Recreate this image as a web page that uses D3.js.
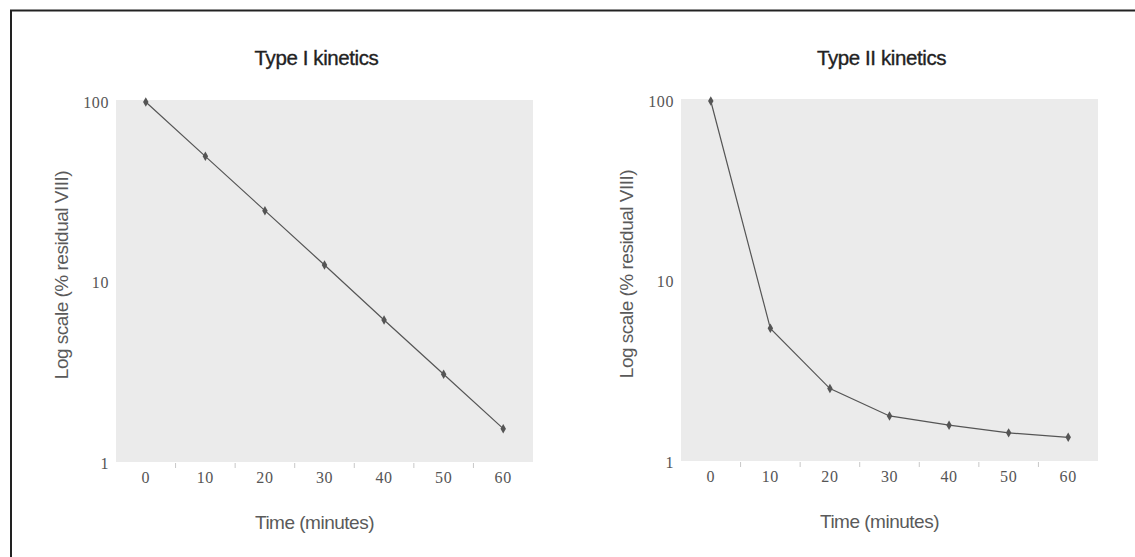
<!DOCTYPE html>
<html>
<head>
<meta charset="utf-8">
<script src="https://cdn.jsdelivr.net/npm/d3@7"></script>
<style>
  body { margin: 0; background: #fff; }
  .title { font-family: "Liberation Sans", Arial, sans-serif; font-size: 20.5px; fill: #222; stroke: #222; stroke-width: 0.35; letter-spacing: -0.4px; }
  .axisLabel { font-family: "Liberation Sans", Arial, sans-serif; font-size: 19px; fill: #5a5a5a; letter-spacing: -0.5px; }
  .tick text { font-family: "Liberation Serif", "Times New Roman", serif; font-size: 16px; fill: #555; letter-spacing: 0.6px; }
  .line { fill: none; stroke: #555; stroke-width: 1.2; }
  .data_points { fill: #555; }
</style>
</head>
<body>
<script>
var times = [0, 10, 20, 30, 40, 50, 60];
var typeOne = [100, 50, 25, 12.5, 6.2, 3.1, 1.55];
var typeTwo = [100, 5.5, 2.55, 1.8, 1.6, 1.45, 1.37];
var yTicks = [1, 10, 100];
var titles = ["Type I kinetics", "Type II kinetics"];

var loadPanel = function(svg, left, top, title, values){
    var w = 417, h = 362;
    var xScale = d3.scaleBand().domain(times).range([left, left + w]);
    var yScale = d3.scaleLog().domain([1, 100]).range([top + h + 1, top + 2]);
    var g = svg.append("g").style("color", "#555");

    g.append("rect")
        .attr("x", left).attr("y", top)
        .attr("width", w).attr("height", h)
        .attr("fill", "#ebebeb");

    // tick marks between the bands, below the plot
    g.append("g").selectAll("line").data(times.slice(1)).enter().append("line")
        .attr("x1", function(d){ return xScale(d); })
        .attr("x2", function(d){ return xScale(d); })
        .attr("y1", top + h + 1).attr("y2", top + h + 6)
        .attr("stroke", "#c8c8c8");

    var xAxis = d3.axisBottom(xScale).tickSize(0).tickPadding(10);
    g.append("g")
        .attr("transform", "translate(0," + (top + h) + ")")
        .call(xAxis)
        .call(function(a){ a.select(".domain").remove(); });

    var yAxis = d3.axisLeft(yScale).tickValues(yTicks).tickFormat(d3.format("d")).tickSize(0).tickPadding(7);
    g.append("g")
        .attr("transform", "translate(" + left + ",0)")
        .call(yAxis)
        .call(function(a){ a.select(".domain").remove(); });

    var line = d3.line()
        .x(function(d, i){ return xScale(times[i]) + xScale.bandwidth() / 2; })
        .y(function(d){ return yScale(d); });
    g.append("path").datum(values)
        .classed("line", true)
        .attr("d", line);

    g.append("g").selectAll("path").data(values).enter().append("path")
        .classed("data_points", true)
        .attr("d", d3.symbol().size(26).type(d3.symbolDiamond))
        .attr("transform", function(d, i){
            return "translate(" + (xScale(times[i]) + xScale.bandwidth() / 2) + "," + yScale(d) + ")";
        });

    g.append("text").classed("title", true)
        .attr("x", left + w / 2 - 8).attr("y", 65)
        .attr("text-anchor", "middle")
        .text(title);

    g.append("text").classed("axisLabel", true)
        .attr("x", left + w / 2 - 10).attr("y", top + h + 67)
        .attr("text-anchor", "middle")
        .text("Time (minutes)");

    g.append("text").classed("axisLabel", true)
        .attr("transform", "translate(" + (left - 48) + "," + (top + h / 2 - 6) + ") rotate(-90)")
        .attr("text-anchor", "middle")
        .text("Log scale (% residual VIII)");
}

var loadGraph = function(){
    var svg = d3.select("body").append("svg")
        .attr("width", 1135)
        .attr("height", 557);
    svg.append("path")
        .attr("d", "M11,557 L11,10.5 L1135,10.5")
        .attr("fill", "none")
        .attr("stroke", "#222")
        .attr("stroke-width", 2);
    loadPanel(svg, 116, 100, titles[0], typeOne);
    loadPanel(svg, 681, 99, titles[1], typeTwo);
}

window.onload = loadGraph;
</script>
</body>
</html>
